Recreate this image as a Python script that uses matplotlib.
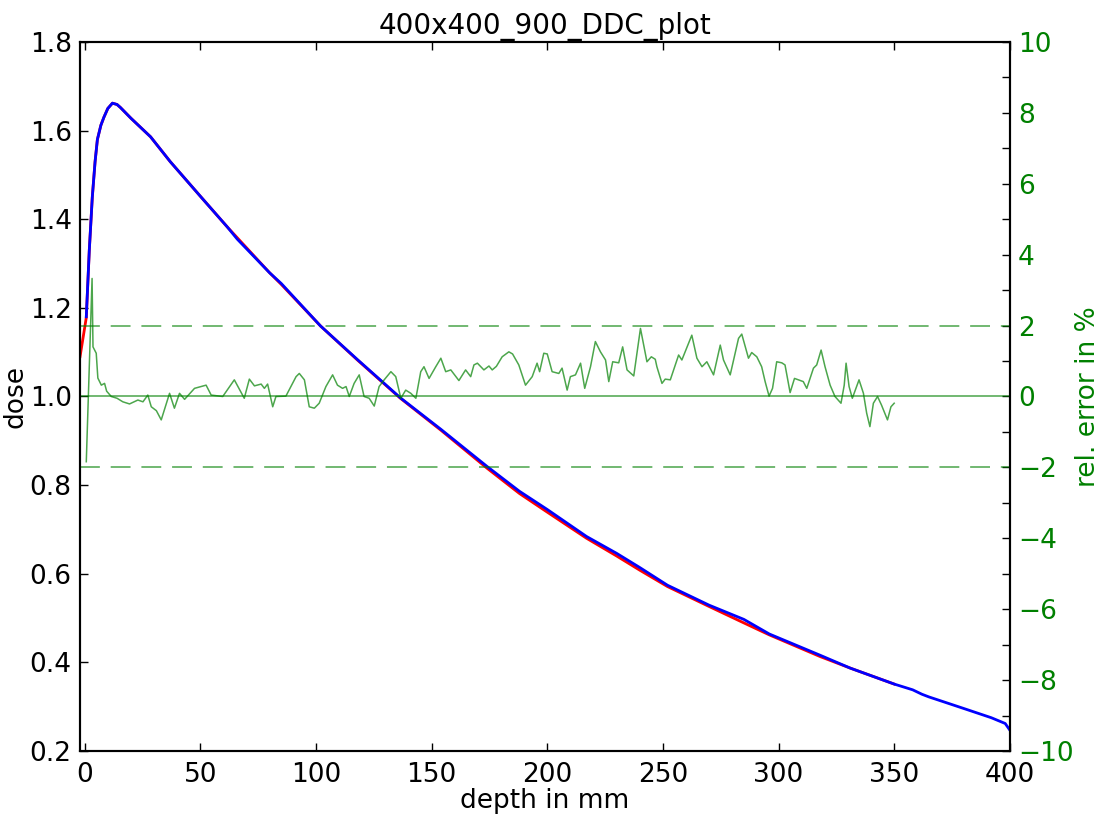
import numpy as np
import matplotlib.pyplot as plt

# measured dose (red), calculated dose (blue), relative error in % (green)
red_x = [-2, 0.7, 2, 3.3, 4.5, 5.5, 7, 8.3, 10, 12, 14, 15.5, 20, 28.5, 37, 45, 50,
         61.6, 80, 85, 102, 118, 136.5, 154, 174, 188, 200, 217, 230, 240, 252, 270,
         285, 296, 318, 331, 350]
red_dose = [1.09, 1.178, 1.33, 1.45, 1.53, 1.58, 1.612, 1.63, 1.65, 1.662, 1.659,
            1.652, 1.628, 1.586, 1.53, 1.482, 1.452, 1.383, 1.279, 1.253, 1.159,
            1.082, 0.996, 0.924, 0.838, 0.781, 0.739, 0.68, 0.64, 0.608, 0.571,
            0.526, 0.489, 0.462, 0.413, 0.387, 0.351]

blue_x = [0.7, 2, 3.3, 4.5, 5.5, 7, 8.3, 10, 12, 14, 15.5, 20, 28.5, 37, 45, 50, 61.6,
          66, 80, 85, 102, 118, 136.5, 154, 174, 188, 200, 217, 230, 240, 252, 270,
          285, 296, 318, 331, 350, 358, 362, 365, 380, 392, 398, 400]
blue_dose = [1.18, 1.33, 1.45, 1.53, 1.58, 1.612, 1.63, 1.65, 1.662, 1.659, 1.652,
             1.628, 1.586, 1.53, 1.482, 1.452, 1.383, 1.355, 1.279, 1.255, 1.159,
             1.083, 0.997, 0.926, 0.842, 0.786, 0.745, 0.684, 0.646, 0.614, 0.574,
             0.529, 0.497, 0.464, 0.416, 0.387, 0.351, 0.338, 0.328, 0.322, 0.296,
             0.275, 0.262, 0.247]

err_x = [0.7, 3.2, 3.6, 5.0, 5.7, 7.2, 8.6, 9.5, 11.5, 14, 16.5, 19.4, 23, 25.2, 27.3,
         28.8, 31, 33.1, 36.7, 38.8, 41, 43.2, 47.5, 52.5, 54.7, 59.7, 64.7, 69, 71.2,
         73.4, 76.3, 77.7, 79.1, 81.3, 82.7, 87, 91.4, 92.8, 95, 97.1, 99.3, 101.4,
         104.3, 107.2, 109.3, 111.5, 113, 114.4, 116.5, 118.7, 120.8, 123, 125.2,
         127.3, 129.5, 132.4, 134.5, 136.7, 138.8, 141, 143.2, 145.3, 146.7, 148.9,
         151.8, 154, 156.1, 158.3, 161.8, 164.7, 166.9, 168.3, 169.8, 172.6, 174.8,
         176.2, 178, 180.5, 183.4, 185, 187.7, 190.6, 193.5, 195.6, 196.7, 198.5, 200,
         202.1, 205, 206.4, 208.6, 210, 212.2, 214.4, 216.2, 218.7, 220.8, 223, 225.2,
         226.6, 228.3, 230.9, 232.6, 234.5, 237.4, 240.3, 243.1, 245, 246.7, 247.4,
         249.6, 251, 253.2, 256.8, 258.2, 262.5, 264.7, 266.9, 269, 271.9, 274.8,
         276.2, 279.1, 282.7, 284.1, 287, 288.4, 290.6, 292.7, 294.2, 295.9, 297.4,
         299.2, 301.4, 302.8, 305, 306.9, 310.7, 312.2, 315.1, 316.5, 318.4, 320.1,
         322.3, 324.4, 327, 328.4, 329.2, 330.5, 331.9, 334.8, 336.7, 338.1, 339.5,
         341, 342.8, 344.5, 347.1, 348.6, 350]
err_pct = [-1.84, 3.33, 1.40, 1.22, 0.52, 0.32, 0.37, 0.15, 0.0, -0.05, -0.15, -0.21,
           -0.10, -0.15, 0.04, -0.29, -0.40, -0.66, 0.09, -0.33, 0.09, -0.08, 0.23,
           0.32, 0.04, 0.0, 0.47, -0.05, 0.49, 0.30, 0.35, 0.23, 0.35, -0.29, 0.0,
           0.01, 0.56, 0.65, 0.47, -0.29, -0.33, -0.19, 0.28, 0.61, 0.32, 0.23, 0.28,
           0.0, 0.37, 0.61, 0.0, -0.05, -0.27, 0.28, 0.47, 0.70, 0.56, -0.05, 0.18,
           0.09, -0.05, 0.70, 0.84, 0.51, 0.84, 1.08, 0.70, 0.75, 0.45, 0.75, 0.56,
           0.89, 0.94, 0.75, 0.86, 0.75, 0.85, 1.12, 1.26, 1.20, 0.89, 0.32, 0.56,
           0.94, 0.70, 1.22, 1.20, 0.70, 0.65, 0.80, 0.18, 0.56, 0.61, 0.94, 0.23,
           0.84, 1.55, 1.26, 1.03, 0.42, 0.98, 0.95, 1.40, 0.75, 0.58, 1.92, 0.98,
           1.12, 1.05, 0.84, 0.37, 0.49, 0.47, 1.17, 1.03, 1.73, 1.08, 0.84, 0.98,
           0.61, 1.45, 1.03, 0.61, 1.64, 1.76, 1.08, 1.24, 1.12, 0.84, 0.42, 0.01,
           0.23, 0.98, 0.95, 0.89, 0.11, 0.51, 0.42, 0.23, 0.80, 0.89, 1.31, 0.84,
           0.32, 0.0, -0.19, 0.32, 0.94, 0.28, -0.05, 0.47, 0.09, -0.47, -0.85, -0.19,
           0.0, -0.24, -0.66, -0.29, -0.19]

fs = 19

fig = plt.figure(figsize=(11.01, 8.16), dpi=100)
ax = fig.add_axes([0.0727, 0.0797, 0.8445, 0.8688])

ax.plot(red_x, red_dose, color='r', lw=2)
ax.plot(blue_x, blue_dose, color='b', lw=2)
ax.set_xlim(-2, 400)
ax.set_ylim(0.2, 1.8)
ax.set_xticks(np.arange(0, 401, 50))
ax.set_yticks(np.arange(0.2, 1.81, 0.2))
ax.set_xlabel("depth in mm", fontsize=fs, labelpad=0)
ax.set_ylabel("dose", fontsize=fs, labelpad=1)
ax.set_title("400x400_900_DDC_plot", fontsize=fs + 1)
ax.tick_params(axis='x', direction='in', top=True, length=6, width=1, labelsize=fs, pad=8)
ax.tick_params(axis='y', direction='in', length=6, width=1, labelsize=fs, pad=6)

ax2 = ax.twinx()
ax2.plot(err_x, err_pct, color='g', lw=1.1, alpha=0.7)
ax2.axhline(0, color='g', lw=1.3, alpha=0.6)
ax2.axhline(2, color='g', lw=1.3, alpha=0.6, dashes=(11, 6))
ax2.axhline(-2, color='g', lw=1.3, alpha=0.6, dashes=(11, 6))
ax2.set_ylim(-10, 10)
ax2.set_yticks(np.arange(-10, 11, 2))
ax2.set_yticks(np.arange(-9, 10, 2), minor=True)
ax2.set_ylabel("rel. error in %", color='g', fontsize=fs, labelpad=1)
ax2.tick_params(axis='y', which='major', direction='in', length=6, width=1,
                labelsize=fs, labelcolor='g', pad=6)
ax2.tick_params(axis='y', which='minor', direction='in', length=6, width=1)

for a in (ax, ax2):
    for s in a.spines.values():
        s.set_linewidth(1.5)

fig.savefig("out.png", dpi=100)
